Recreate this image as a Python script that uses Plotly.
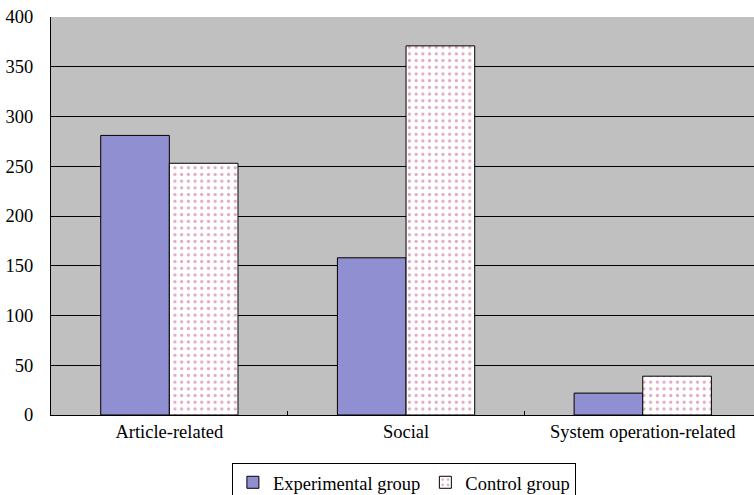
import plotly.graph_objects as go

categories = ["Article-related", "Social", "System operation-related"]
experimental = [281, 158, 22]
control = [253, 371, 39]
y_ticks = [0, 50, 100, 150, 200, 250, 300, 350, 400]

FAM = "Liberation Serif, Times New Roman, serif"
font = dict(family=FAM, size=18.5, color="black")

fig = go.Figure()
fig.add_trace(go.Bar(
    x=categories, y=experimental, name="Experimental group",
    marker=dict(color="#8f8fd2", line=dict(color="black", width=1)),
))
fig.add_trace(go.Bar(
    x=categories, y=control, name="Control group",
    marker=dict(color="white", line=dict(color="black", width=1),
                pattern=dict(shape=".", fgcolor="#c2508c", bgcolor="white",
                             size=6.7, solidity=0.18, fillmode="overlay")),
))

fig.update_layout(
    width=754, height=495,
    margin=dict(l=51, r=0, t=17, b=80, autoexpand=False),
    paper_bgcolor="white", plot_bgcolor="#c0c0c0",
    barmode="group", bargap=0.42, bargroupgap=0,
    font=font,
    showlegend=True,
    legend=dict(orientation="h", x=0.502, xanchor="center", y=-0.12, yanchor="top",
                bordercolor="black", borderwidth=1, bgcolor="white",
                font=dict(family=FAM, size=18.5, color="black"),
                itemwidth=30, tracegroupgap=0),
    xaxis=dict(range=[-0.5, 2.47], showline=True, linecolor="black", linewidth=1,
               ticks="inside", tickson="boundaries", ticklen=4, tickcolor="black",
               showgrid=False, tickfont=font, automargin=False,
               ticklabeloverflow="allow"),
    yaxis=dict(range=[0, 400], tickvals=y_ticks, showline=True, linecolor="black",
               linewidth=1, showgrid=True, gridcolor="black", gridwidth=1,
               ticks="", ticklabelstandoff=13, tickfont=font, zeroline=False,
               automargin=False, ticklabeloverflow="allow"),
)

fig.write_html("out.html", config={"displayModeBar": False},
               post_script="document.body.style.margin='0';document.body.style.overflow='hidden';")
